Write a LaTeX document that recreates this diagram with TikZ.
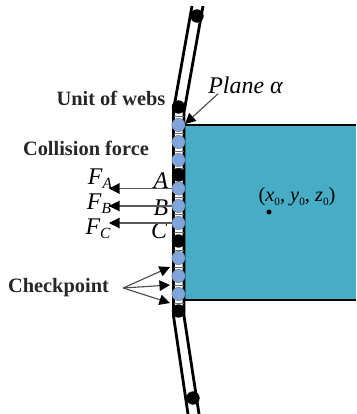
\documentclass[tikz,border=0pt]{standalone}
\usepackage{fontspec}
\setmainfont{Liberation Serif}
\usetikzlibrary{arrows.meta}
\definecolor{blockteal}{HTML}{47ACC5}
\definecolor{pointblue}{HTML}{7FA5DC}
\tikzset{
    webline/.style = {line width=2pt, black},
    unitdot/.style = {circle, fill=black, inner sep=0pt, minimum size=9.5pt},
    checkdot/.style = {circle, fill=pointblue, draw=black!60, line width=0.3pt, inner sep=0pt, minimum size=9.5pt},
    boldlabel/.style = {inner sep=0pt, font=\fontsize{14.5}{16}\selectfont\bfseries, text=black!85},
    mathlabel/.style = {inner sep=0pt, font=\fontsize{17}{19}\selectfont\itshape},
    forcearrow/.style = {draw=black!65, line width=0.8pt, -{Triangle[black,length=7.5pt,width=7.5pt]}},
    pointarrow/.style = {draw=black!70, line width=0.8pt, -{Triangle[black,length=7.5pt,width=7.5pt]}}
}
\newcommand{\subtext}[1]{\raisebox{-0.35ex}{\fontsize{11}{12}\selectfont #1}}
\begin{document}
\begin{tikzpicture}[x=0.025cm,y=-0.025cm]
            \useasboundingbox (0,0) rectangle (356,414);
            \filldraw[
                fill = blockteal,
                draw = none
            ]
            (184,125) rectangle (356,300);
            \draw[webline] (184,125) -- (356,125);
            \draw[webline] (184,300) -- (356,300);
            % web strip
            \draw[webline] (192,6) -- (173.5,110) -- (173.5,316) -- (188,414);
            \draw[webline] (203,6) -- (184,112) -- (184,316) -- (199,414);
            \foreach \y in {116,133,151,168,197,214,232,250,267,285,303}
                \draw[black!60, line width=0.5pt] (174,\y) -- (184,\y);
            % unit of webs
            \node[unitdot] (unitA) at (197,16) {};
            \node[unitdot] (unitB) at (178.5,107) {};
            \node[unitdot] (unitC) at (178.5,175) {};
            \node[unitdot] (unitD) at (178.5,241) {};
            \node[unitdot] (unitE) at (178.5,311) {};
            \node[unitdot] (unitF) at (193,398) {};
            % checkpoints
            \foreach \name/\y in {one/125,two/142,three/160,pA/188.5,pB/206,pC/223,four/258,five/276,six/294}
                \node[checkdot] (\name) at (178.5,\y) {};
            \node[boldlabel] (webs) at (111,98) {Unit of webs};
            \node[boldlabel] (collision) at (86,148) {Collision force};
            \node[boldlabel] (check) at (58.5,288) {Checkpoint};
            \node[mathlabel] (plane) at (245.5,85) {Plane α};
            \coordinate (planetip) at (185,124);
            \draw[pointarrow] (plane.south west) ++(10,0) -- (planetip);
            \node[mathlabel] (labelA) at (161,181) {A};
            \node[mathlabel] (labelB) at (161,208) {B};
            \node[mathlabel] (labelC) at (159,231) {C};
            \node[mathlabel] (fA) at (100,179) {F\subtext{A}};
            \node[mathlabel] (fB) at (99,204) {F\subtext{B}};
            \node[mathlabel] (fC) at (98,229) {F\subtext{C}};
            \coordinate (tipA) at (109,188.5);
            \coordinate (tipB) at (109,206);
            \coordinate (tipC) at (109,223);
            \draw[forcearrow] (pA) -- (tipA);
            \draw[forcearrow] (pB) -- (tipB);
            \draw[forcearrow] (pC) -- (tipC);
            \coordinate (tipD) at (170,267);
            \coordinate (tipE) at (170,285);
            \coordinate (tipF) at (170,303);
            \draw[pointarrow] (check.east) ++(14,0) coordinate (fork) -- (tipD);
            \draw[pointarrow] (fork) -- (tipE);
            \draw[pointarrow] (fork) -- (tipF);
            % centre of the block
            \node[circle, fill=black, inner sep=0pt, minimum size=3.5pt] (centre) at (269,212) {};
            \node[inner sep=0pt, font=\fontsize{14.5}{16}\selectfont] (coords) at (297,197) {(\textit{x}\subtext{\footnotesize 0}, \textit{y}\subtext{\footnotesize 0}, \textit{z}\subtext{\footnotesize 0})};
        \end{tikzpicture}
\end{document}
